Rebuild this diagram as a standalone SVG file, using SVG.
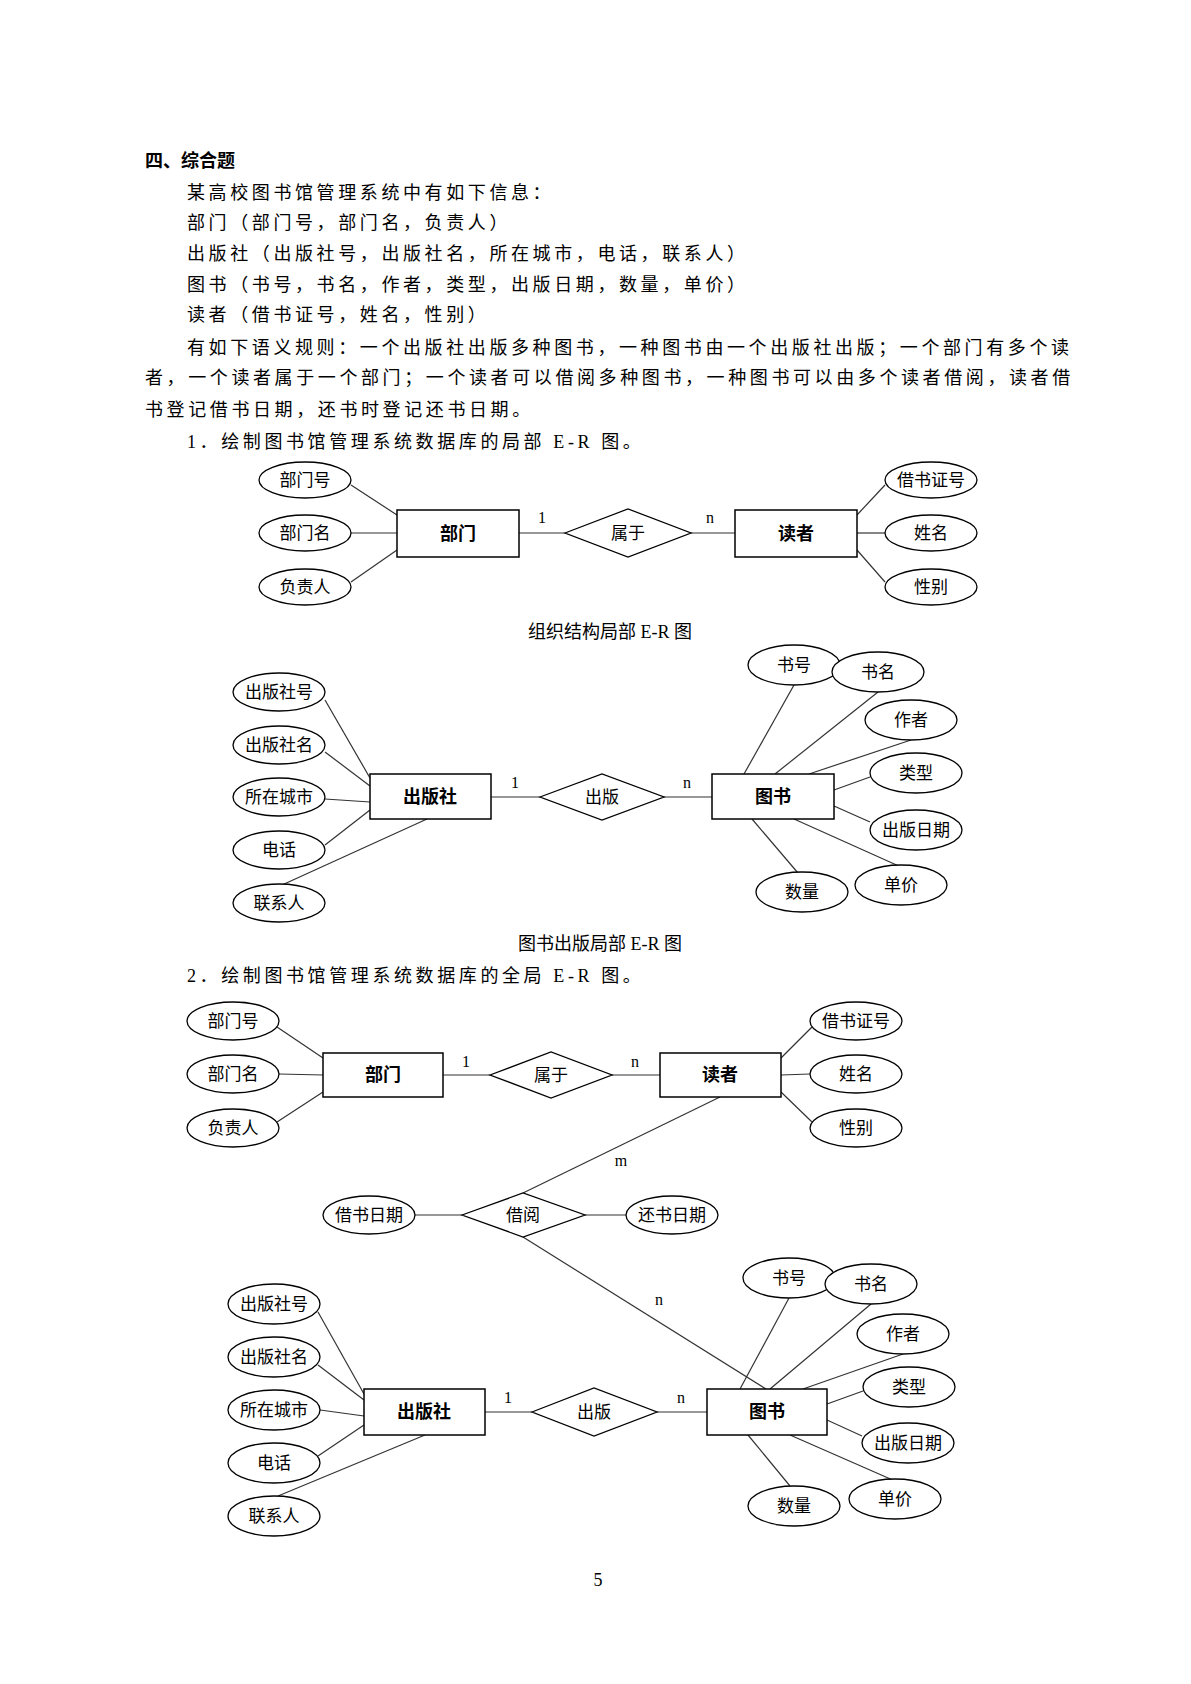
<svg xmlns="http://www.w3.org/2000/svg" width="1191" height="1684" viewBox="0 0 1191 1684">
<style>
text{font-family:"Liberation Serif","Noto Sans CJK SC",serif;fill:#000}
.t{font-size:18px;letter-spacing:3.6px}
.h{font-size:18px;font-weight:bold}
.e ellipse{fill:#fff;stroke:#000;stroke-width:1.3}
.e text{font-size:17px;text-anchor:middle;font-family:"Noto Sans CJK SC",sans-serif}
.r rect{fill:#fff;stroke:#000;stroke-width:1.5}
.r text{font-size:18px;font-weight:bold;text-anchor:middle;font-family:"Noto Sans CJK SC",sans-serif}
.d polygon{fill:#fff;stroke:#000;stroke-width:1.3}
.d text{font-size:17px;text-anchor:middle;font-family:"Noto Sans CJK SC",sans-serif}
.c line{stroke:#333;stroke-width:1.2}
.k{font-size:16px;text-anchor:middle}
.cap{font-size:18px;text-anchor:middle}
</style>
<text class="h" x="145" y="167">四、综合题</text>
<text class="t" x="187" y="199">某高校图书馆管理系统中有如下信息：</text>
<text class="t" x="187" y="229">部门（部门号，部门名，负责人）</text>
<text class="t" x="187" y="260">出版社（出版社号，出版社名，所在城市，电话，联系人）</text>
<text class="t" x="187" y="291">图书（书号，书名，作者，类型，出版日期，数量，单价）</text>
<text class="t" x="187" y="321">读者（借书证号，姓名，性别）</text>
<text class="t" x="187" y="354">有如下语义规则：一个出版社出版多种图书，一种图书由一个出版社出版；一个部门有多个读</text>
<text class="t" x="145" y="384">者，一个读者属于一个部门；一个读者可以借阅多种图书，一种图书可以由多个读者借阅，读者借</text>
<text class="t" x="145" y="416">书登记借书日期，还书时登记还书日期。</text>
<text class="t" x="187" y="448">1．绘制图书馆管理系统数据库的局部 E-R 图。</text>
<text class="cap" x="610" y="638">组织结构局部 E-R 图</text>
<text class="cap" x="600" y="950">图书出版局部 E-R 图</text>
<text class="t" x="187" y="982">2．绘制图书馆管理系统数据库的全局 E-R 图。</text>
<text class="cap" x="598" y="1586">5</text>

<g id="connectors" class="c">
<!-- ER1 -->
<line x1="351" y1="485" x2="397" y2="515"/><line x1="351" y1="533" x2="397" y2="533"/><line x1="351" y1="582" x2="397" y2="550"/>
<line x1="519" y1="533" x2="565" y2="533"/><line x1="691" y1="533" x2="735" y2="533"/>
<line x1="885" y1="485" x2="857" y2="515"/><line x1="885" y1="533" x2="857" y2="533"/><line x1="885" y1="582" x2="857" y2="550"/>
<!-- ER2 -->
<line x1="325" y1="700" x2="370" y2="778"/><line x1="325" y1="752" x2="370" y2="786"/><line x1="325" y1="799" x2="370" y2="802"/><line x1="325" y1="845" x2="370" y2="810"/><line x1="282" y1="885" x2="427" y2="819"/>
<line x1="491" y1="797" x2="540" y2="797"/><line x1="664" y1="797" x2="712" y2="797"/>
<line x1="794" y1="685" x2="744" y2="774"/><line x1="878" y1="692" x2="775" y2="774"/><line x1="911" y1="740" x2="809" y2="774"/><line x1="870" y1="777" x2="834" y2="790"/><line x1="870" y1="822" x2="834" y2="806"/><line x1="901" y1="867" x2="794" y2="819"/><line x1="798" y1="873" x2="752" y2="819"/>
<!-- ER3 -->
<line x1="277" y1="1027" x2="323" y2="1058"/><line x1="279" y1="1074" x2="323" y2="1075"/><line x1="277" y1="1122" x2="323" y2="1092"/>
<line x1="443" y1="1075" x2="490" y2="1075"/><line x1="612" y1="1075" x2="660" y2="1075"/>
<line x1="812" y1="1027" x2="781" y2="1058"/><line x1="810" y1="1074" x2="781" y2="1075"/><line x1="812" y1="1122" x2="781" y2="1092"/>
<line x1="720" y1="1097" x2="523" y2="1193"/>
<line x1="415" y1="1215" x2="462" y2="1215"/><line x1="585" y1="1215" x2="626" y2="1215"/>
<line x1="523" y1="1237" x2="766" y2="1389"/>
<line x1="318" y1="1312" x2="364" y2="1394"/><line x1="318" y1="1365" x2="364" y2="1400"/><line x1="320" y1="1410" x2="364" y2="1416"/><line x1="318" y1="1456" x2="364" y2="1425"/><line x1="278" y1="1496" x2="425" y2="1435"/>
<line x1="485" y1="1412" x2="532" y2="1412"/><line x1="657" y1="1412" x2="707" y2="1412"/>
<line x1="789" y1="1298" x2="740" y2="1389"/><line x1="871" y1="1304" x2="770" y2="1389"/><line x1="903" y1="1354" x2="803" y2="1389"/><line x1="863" y1="1391" x2="827" y2="1404"/><line x1="862" y1="1436" x2="827" y2="1420"/><line x1="895" y1="1481" x2="790" y2="1435"/><line x1="790" y1="1486" x2="748" y2="1435"/>
</g>
<g>
<text class="k" x="542" y="523">1</text><text class="k" x="710" y="523">n</text>
<text class="k" x="515" y="788">1</text><text class="k" x="687" y="788">n</text>
<text class="k" x="466" y="1067">1</text><text class="k" x="635" y="1067">n</text>
<text class="k" x="621" y="1166">m</text><text class="k" x="659" y="1305">n</text>
<text class="k" x="508" y="1403">1</text><text class="k" x="681" y="1403">n</text>
</g>

<!-- ER1 nodes -->
<g id="e1_bmh" class="e"><ellipse cx="305" cy="480" rx="46" ry="18"/><text x="305" y="486">部门号</text></g>
<g id="e1_bmm" class="e"><ellipse cx="305" cy="533" rx="46" ry="18"/><text x="305" y="539">部门名</text></g>
<g id="e1_fzr" class="e"><ellipse cx="305" cy="587" rx="46" ry="18"/><text x="305" y="593">负责人</text></g>
<g id="r1_bm" class="r"><rect x="397" y="510" width="122" height="47"/><text x="458" y="540">部门</text></g>
<g id="d1_sy" class="d"><polygon points="565,533 628,509 691,533 628,557"/><text x="628" y="539">属于</text></g>
<g id="r1_dz" class="r"><rect x="735" y="510" width="122" height="47"/><text x="796" y="540">读者</text></g>
<g id="e1_jszh" class="e"><ellipse cx="931" cy="480" rx="46" ry="18"/><text x="931" y="486">借书证号</text></g>
<g id="e1_xm" class="e"><ellipse cx="931" cy="533" rx="46" ry="18"/><text x="931" y="539">姓名</text></g>
<g id="e1_xb" class="e"><ellipse cx="931" cy="587" rx="46" ry="18"/><text x="931" y="593">性别</text></g>

<!-- ER2 nodes -->
<g id="e2_cbsh" class="e"><ellipse cx="279" cy="692" rx="46" ry="19"/><text x="279" y="698">出版社号</text></g>
<g id="e2_cbsm" class="e"><ellipse cx="279" cy="745" rx="46" ry="19"/><text x="279" y="751">出版社名</text></g>
<g id="e2_szcs" class="e"><ellipse cx="279" cy="797" rx="46" ry="19"/><text x="279" y="803">所在城市</text></g>
<g id="e2_dh" class="e"><ellipse cx="279" cy="850" rx="46" ry="19"/><text x="279" y="856">电话</text></g>
<g id="e2_lxr" class="e"><ellipse cx="279" cy="903" rx="46" ry="19"/><text x="279" y="909">联系人</text></g>
<g id="r2_cbs" class="r"><rect x="370" y="774" width="121" height="45"/><text x="430" y="803">出版社</text></g>
<g id="d2_cb" class="d"><polygon points="540,797 602,774 664,797 602,820"/><text x="602" y="803">出版</text></g>
<g id="r2_ts" class="r"><rect x="712" y="774" width="122" height="45"/><text x="773" y="803">图书</text></g>
<g id="e2_sh" class="e"><ellipse cx="794" cy="665" rx="46" ry="20"/><text x="794" y="671">书号</text></g>
<g id="e2_sm" class="e"><ellipse cx="878" cy="672" rx="46" ry="20"/><text x="878" y="678">书名</text></g>
<g id="e2_zz" class="e"><ellipse cx="911" cy="720" rx="46" ry="20"/><text x="911" y="726">作者</text></g>
<g id="e2_lx" class="e"><ellipse cx="916" cy="773" rx="46" ry="20"/><text x="916" y="779">类型</text></g>
<g id="e2_cbrq" class="e"><ellipse cx="916" cy="830" rx="46" ry="20"/><text x="916" y="836">出版日期</text></g>
<g id="e2_dj" class="e"><ellipse cx="901" cy="885" rx="46" ry="20"/><text x="901" y="891">单价</text></g>
<g id="e2_sl" class="e"><ellipse cx="802" cy="892" rx="46" ry="20"/><text x="802" y="898">数量</text></g>

<!-- ER3 nodes -->
<g id="e3_bmh" class="e"><ellipse cx="233" cy="1021" rx="46" ry="19"/><text x="233" y="1027">部门号</text></g>
<g id="e3_bmm" class="e"><ellipse cx="233" cy="1074" rx="46" ry="19"/><text x="233" y="1080">部门名</text></g>
<g id="e3_fzr" class="e"><ellipse cx="233" cy="1128" rx="46" ry="19"/><text x="233" y="1134">负责人</text></g>
<g id="r3_bm" class="r"><rect x="323" y="1053" width="120" height="44"/><text x="383" y="1081">部门</text></g>
<g id="d3_sy" class="d"><polygon points="490,1075 551,1052 612,1075 551,1098"/><text x="551" y="1081">属于</text></g>
<g id="r3_dz" class="r"><rect x="660" y="1053" width="121" height="44"/><text x="720" y="1081">读者</text></g>
<g id="e3_jszh" class="e"><ellipse cx="856" cy="1021" rx="46" ry="19"/><text x="856" y="1027">借书证号</text></g>
<g id="e3_xm" class="e"><ellipse cx="856" cy="1074" rx="46" ry="19"/><text x="856" y="1080">姓名</text></g>
<g id="e3_xb" class="e"><ellipse cx="856" cy="1128" rx="46" ry="19"/><text x="856" y="1134">性别</text></g>
<g id="d3_jy" class="d"><polygon points="462,1215 523,1193 585,1215 523,1237"/><text x="523" y="1221">借阅</text></g>
<g id="e3_jsrq" class="e"><ellipse cx="369" cy="1215" rx="46" ry="19"/><text x="369" y="1221">借书日期</text></g>
<g id="e3_hsrq" class="e"><ellipse cx="672" cy="1215" rx="46" ry="19"/><text x="672" y="1221">还书日期</text></g>
<g id="e3_cbsh" class="e"><ellipse cx="274" cy="1304" rx="46" ry="20"/><text x="274" y="1310">出版社号</text></g>
<g id="e3_cbsm" class="e"><ellipse cx="274" cy="1357" rx="46" ry="20"/><text x="274" y="1363">出版社名</text></g>
<g id="e3_szcs" class="e"><ellipse cx="274" cy="1410" rx="46" ry="20"/><text x="274" y="1416">所在城市</text></g>
<g id="e3_dh" class="e"><ellipse cx="274" cy="1463" rx="46" ry="20"/><text x="274" y="1469">电话</text></g>
<g id="e3_lxr" class="e"><ellipse cx="274" cy="1516" rx="46" ry="20"/><text x="274" y="1522">联系人</text></g>
<g id="r3_cbs" class="r"><rect x="364" y="1389" width="121" height="46"/><text x="424" y="1418">出版社</text></g>
<g id="d3_cb" class="d"><polygon points="532,1412 594,1388 657,1412 594,1436"/><text x="594" y="1418">出版</text></g>
<g id="r3_ts" class="r"><rect x="707" y="1389" width="120" height="46"/><text x="767" y="1418">图书</text></g>
<g id="e3_sh" class="e"><ellipse cx="789" cy="1278" rx="46" ry="20"/><text x="789" y="1284">书号</text></g>
<g id="e3_sm" class="e"><ellipse cx="871" cy="1284" rx="46" ry="20"/><text x="871" y="1290">书名</text></g>
<g id="e3_zz" class="e"><ellipse cx="903" cy="1334" rx="46" ry="20"/><text x="903" y="1340">作者</text></g>
<g id="e3_lx" class="e"><ellipse cx="909" cy="1387" rx="46" ry="20"/><text x="909" y="1393">类型</text></g>
<g id="e3_cbrq" class="e"><ellipse cx="908" cy="1443" rx="46" ry="20"/><text x="908" y="1449">出版日期</text></g>
<g id="e3_dj" class="e"><ellipse cx="895" cy="1499" rx="46" ry="20"/><text x="895" y="1505">单价</text></g>
<g id="e3_sl" class="e"><ellipse cx="794" cy="1506" rx="46" ry="20"/><text x="794" y="1512">数量</text></g>
</svg>
